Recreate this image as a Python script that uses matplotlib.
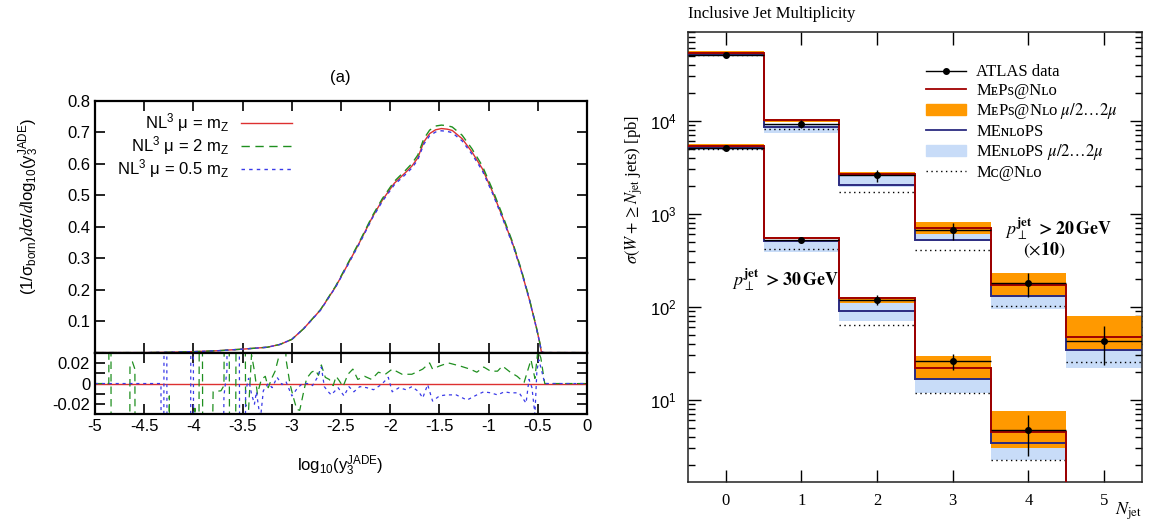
import matplotlib.pyplot as plt
from matplotlib.lines import Line2D
from matplotlib.patches import Patch
import numpy as np

plt.rcParams['mathtext.fontset'] = 'stix'
plt.rcParams['axes.unicode_minus'] = False
plt.rcParams['font.family'] = 'Liberation Sans'

# ---- left panel: y3 JADE distribution ----
y3_x = [-5.0, -4.5, -4.25, -4.0, -3.75, -3.5, -3.25, -3.12, -3.0, -2.88, -2.71, -2.555,
        -2.435, -2.3, -2.18, -2.08, -1.96, -1.84, -1.78, -1.72, -1.66, -1.6, -1.54, -1.48,
        -1.42, -1.37, -1.27, -1.17, -1.065, -0.96, -0.86, -0.756, -0.67, -0.585, -0.517,
        -0.48, -0.465, -0.44, -0.3, 0.0]
nl3_mz = [0, 0, 0.001, 0.003, 0.006, 0.011, 0.017, 0.026, 0.042, 0.076, 0.135, 0.209,
          0.278, 0.357, 0.431, 0.484, 0.537, 0.573, 0.592, 0.618, 0.668, 0.695, 0.707, 0.711,
          0.709, 0.705, 0.679, 0.637, 0.584, 0.51, 0.431, 0.346, 0.262, 0.167, 0.082,
          0.03, 0.003, 0.0, 0, 0]
nl3_2mz = [0, 0, 0.001, 0.003, 0.006, 0.011, 0.017, 0.026, 0.042, 0.076, 0.136, 0.211,
           0.281, 0.36, 0.435, 0.489, 0.543, 0.58, 0.6, 0.627, 0.678, 0.706, 0.719, 0.722,
           0.72, 0.716, 0.69, 0.647, 0.593, 0.517, 0.437, 0.35, 0.265, 0.169, 0.083,
           0.031, 0.003, 0.0, 0, 0]
nl3_05mz = [0, 0, 0.001, 0.003, 0.006, 0.011, 0.017, 0.026, 0.042, 0.076, 0.134, 0.208,
            0.276, 0.354, 0.428, 0.48, 0.532, 0.567, 0.586, 0.612, 0.661, 0.688, 0.7, 0.704,
            0.702, 0.698, 0.672, 0.63, 0.578, 0.505, 0.427, 0.343, 0.26, 0.166, 0.081,
            0.03, 0.003, 0.0, 0, 0]

# relative deviation from mu = mZ (ratio panel)
dev2_x = [-5.0, -4.86, -4.845, -4.83, -4.66, -4.645, -4.62, -4.595, -4.58, -4.27, -4.245,
          -4.225, -4.01, -3.985, -3.96, -3.925, -3.89, -3.8, -3.72, -3.69, -3.655, -3.615,
          -3.57, -3.545, -3.5, -3.47, -3.44, -3.41, -3.38, -3.35, -3.31, -3.27, -3.24, -3.2,
          -3.17, -3.13, -3.1, -3.06, -3.02, -2.98, -2.95, -2.92, -2.88, -2.85, -2.8, -2.76,
          -2.73, -2.7, -2.66, -2.62, -2.58, -2.55, -2.52, -2.48, -2.43, -2.38, -2.33, -2.26,
          -2.19, -2.12, -2.05, -1.98, -1.88, -1.78, -1.67, -1.6, -1.57, -1.5, -1.41, -1.29,
          -1.19, -1.12, -1.05, -0.98, -0.91, -0.86, -0.78, -0.71, -0.64, -0.57, -0.53, -0.5,
          -0.47, -0.43, 0.0]
dev2 = [0, 0, 0.6, -0.6, -0.6, 0.016, 0.021, 0.014, -0.6, -0.6, -0.012,
        -0.6, -0.6, -0.024, -0.6, 0.6, -0.6, -0.008, -0.007, -0.002, 0.6, -0.6,
        -0.025, 0.6, 0.6, -0.02, -0.026, 0.028, 0.012, -0.01, 0.004, 0.007, -0.004, 0.006,
        0.012, 0.027, 0.6, 0.024, 0.0, -0.015, -0.025, -0.026, -0.008, 0.005, 0.011, 0.013,
        0.008, 0.018, 0.006, 0.004, -0.002, 0.007, 0.003, -0.003, 0.009, 0.014, 0.004, 0.007,
        0.004, 0.011, 0.009, 0.014, 0.009, 0.009, 0.014, 0.02, 0.014, 0.017, 0.02, 0.017,
        0.014, 0.011, 0.016, 0.012, 0.012, 0.017, 0.011, 0.007, 0.001, 0.023, 0.005, 0.032,
        0.025, 0.0, 0.0]
dev05_x = [-5.0, -4.33, -4.315, -4.285, -4.255, -4.04, -4.015, -3.985, -3.75, -3.69, -3.66,
           -3.63, -3.55, -3.515, -3.5, -3.47, -3.44, -3.41, -3.38, -3.36, -3.32, -3.29, -3.24,
           -3.2, -3.15, -3.1, -3.06, -3.0, -2.94, -2.89, -2.84, -2.79, -2.74, -2.7, -2.67,
           -2.63, -2.6, -2.53, -2.47, -2.42, -2.37, -2.31, -2.24, -2.17, -2.09, -2.02, -1.98,
           -1.91, -1.84, -1.78, -1.71, -1.67, -1.62, -1.57, -1.5, -1.43, -1.33, -1.22, -1.12,
           -1.05, -0.98, -0.91, -0.84, -0.78, -0.69, -0.62, -0.59, -0.56, -0.53, -0.51, -0.49,
           -0.46, -0.43, 0.0]
dev05 = [0, 0, -0.6, 0.6, -0.6, -0.6, 0.6, -0.6, -0.6, -0.012, 0.012,
         0.6, 0.6, -0.6, -0.6, -0.008, 0.005, -0.01, -0.02, -0.008, -0.035, -0.007, 0.0,
         -0.004, 0.006, -0.001, 0.002, -0.012, -0.004, 0.0, 0.0, -0.002, 0.006, 0.016, -0.003,
         -0.008, -0.011, -0.004, -0.012, -0.003, -0.008, -0.003, -0.004, -0.006, -0.001, 0.006, -0.008,
         -0.004, -0.006, -0.003, -0.008, -0.014, -0.001, -0.017, -0.012, -0.011, -0.011, -0.016, -0.011,
         -0.008, -0.009, -0.011, -0.008, -0.009, -0.009, -0.019, 0.004, -0.004, -0.03, 0.012, 0.023,
         0.012, 0.0, 0.0]

# ---- right panel: inclusive jet multiplicity ----
n_jet = [0, 1, 2, 3, 4, 5]
edges = [-0.5, 0.5, 1.5, 2.5, 3.5, 4.5, 5.5]

data20 = [51300, 9290, 2580, 661, 180, 42.4]
err20 = [2000, 950, 380, 135, 53, 19]
meps20 = [53500, 10070, 2690, 702, 173, 47.2]
meps20_hi = [55600, 10400, 2780, 805, 232, 79]
meps20_lo = [51300, 9750, 2560, 610, 128, 35]
menlops20 = [51300, 8610, 2015, 525, 131, 33.9]
menlops20_hi = [53800, 9290, 2630, 700, 170, 45]
menlops20_lo = [49100, 7430, 1960, 503, 95, 21.9]
mcnlo20 = [50400, 8200, 1695, 410, 100.7, 25.4]

data30 = [5080, 525, 119, 25.8, 4.68]
err30 = [200, 37, 14, 4.8, 2.2]
meps30 = [5380, 548, 123, 21.9, 4.45, 0.1]
meps30_hi = [5610, 560, 126, 29.7, 7.48]
meps30_lo = [5300, 535, 110, 16.7, 3.02]
menlops30 = [5130, 513, 89, 16.8, 3.42, 0.1]
menlops30_hi = [5300, 525, 114, 22, 4.3]
menlops30_lo = [4880, 387, 69.5, 11.8, 2.26]
mcnlo30 = [4950, 421, 64, 11.8, 2.26]

RED_L, GREEN_L, BLUE_L = '#dd3030', '#1f8f1f', '#3a3ae8'
RED, NAVY, ORANGE, LBLUE = '#a00000', '#2b2b80', '#ff9900', '#c8dcf8'

fig = plt.figure(figsize=(11.52, 5.23), dpi=100)

ax = fig.add_axes([0.0825, 0.3258, 0.4271, 0.4820])
axr = fig.add_axes([0.0825, 0.2075, 0.4271, 0.1183], sharex=ax)

ax.plot(y3_x, nl3_mz, color=RED_L, lw=1, label=r'NL$\mathregular{^3}$ μ = m$\mathregular{_Z}$')
ax.plot(y3_x, nl3_2mz, color=GREEN_L, lw=1, dashes=(6, 4),
        label=r'NL$\mathregular{^3}$ μ = 2 m$\mathregular{_Z}$')
ax.plot(y3_x, nl3_05mz, color=BLUE_L, lw=1, dashes=(2.5, 3),
        label=r'NL$\mathregular{^3}$ μ = 0.5 m$\mathregular{_Z}$')
ax.set_xlim(-5, 0)
ax.set_ylim(0, 0.8)
ax.set_yticks(np.arange(0.1, 0.81, 0.1))
ax.set_yticklabels(['%.1f' % v for v in np.arange(0.1, 0.81, 0.1)])
ax.tick_params(labelbottom=False)
ax.legend(loc='upper right', bbox_to_anchor=(0.418, 0.99), frameon=False, markerfirst=False,
          fontsize=12, handlelength=3.1, handletextpad=0.7, labelspacing=0.0, borderpad=0)

axr.axhline(0, color=RED_L, lw=1)
axr.plot(dev2_x, dev2, color=GREEN_L, lw=0.9, dashes=(6, 4))
axr.plot(dev05_x, dev05, color=BLUE_L, lw=0.9, dashes=(2.5, 3))
axr.set_ylim(-0.03, 0.03)
axr.set_yticks([-0.02, -0.01, 0, 0.01, 0.02])
axr.set_yticklabels(['-0.02', '', '0', '', '0.02'])
axr.set_xticks(np.arange(-5, 0.01, 0.5))
axr.set_xticklabels(['-5', '-4.5', '-4', '-3.5', '-3', '-2.5', '-2', '-1.5', '-1', '-0.5', '0'])

for a in (ax, axr):
    a.tick_params(direction='in', top=True, right=True, length=7, width=1.2, labelsize=12)
    for s in a.spines.values():
        s.set_linewidth(1.6)

fig.text(0.295, 0.852, '(a)', fontsize=12, ha='center', va='center')
fig.text(0.025, 0.605, r'(1/σ$\mathregular{_{born}}$)$\mathit{d}$σ/$\mathit{d}$log$\mathregular{_{10}}$(y$\mathregular{_3^{JADE}}$)',
         rotation=90, fontsize=12, ha='center', va='center')
fig.text(0.295, 0.110, r'log$\mathregular{_{10}}$(y$\mathregular{_3^{JADE}}$)', fontsize=12,
         ha='center', va='center')

# ---- right panel ----
serif = ['Liberation Serif', 'DejaVu Serif', 'DejaVu Sans']
bx = fig.add_axes([0.5972, 0.0784, 0.3941, 0.8604])

bx.stairs(menlops20_hi, edges, baseline=menlops20_lo, fill=True, color=LBLUE, zorder=1)
bx.stairs(menlops30_hi, edges[:6], baseline=menlops30_lo, fill=True, color=LBLUE, zorder=1)
bx.stairs(meps20_hi, edges, baseline=meps20_lo, fill=True, color=ORANGE, zorder=2)
bx.stairs(meps30_hi, edges[:6], baseline=meps30_lo, fill=True, color=ORANGE, zorder=2)
bx.hlines(mcnlo20, edges[:-1], edges[1:], colors='black', linestyles=(0, (1, 2.5)), lw=1, zorder=3)
bx.hlines(mcnlo30, edges[:5], edges[1:6], colors='black', linestyles=(0, (1, 2.5)), lw=1, zorder=3)
bx.stairs(menlops20, edges, baseline=None, color=NAVY, lw=1.4, zorder=4)
bx.stairs(menlops30, edges, baseline=None, color=NAVY, lw=1.4, zorder=4)
bx.stairs(meps20, edges, baseline=None, color=RED, lw=1.4, zorder=5)
bx.stairs(meps30, edges, baseline=None, color=RED, lw=1.4, zorder=5)
bx.errorbar(n_jet, data20, yerr=err20, xerr=0.5, fmt='o', color='black', ms=4, lw=1,
            capsize=0, zorder=6)
bx.errorbar(n_jet[:5], data30, yerr=err30, xerr=0.5, fmt='o', color='black', ms=4, lw=1,
            capsize=0, zorder=6)

bx.set_yscale('log')
bx.set_xlim(-0.5, 5.5)
bx.set_ylim(1.3, 9.0e4)
bx.set_xticks(n_jet)
bx.tick_params(which='major', direction='in', top=True, right=True, length=9, width=1,
               labelsize=12, pad=8)
bx.tick_params(which='minor', direction='in', top=False, right=True, length=5, width=1)
bx.xaxis.set_minor_locator(plt.NullLocator())
for lbl in bx.get_xticklabels():
    lbl.set_family(serif)
for s in bx.spines.values():
    s.set_linewidth(1.1)
    s.set_color('#222222')

bx.set_title('Inclusive Jet Multiplicity', loc='left', fontsize=12, family=serif, pad=10)
bx.set_ylabel(r'$\sigma(W + \geq N_{\rm jet}$ jets) [pb]', fontsize=12, family=serif)
bx.yaxis.set_label_coords(-0.095, 0.65)
fig.text(0.991, 0.002, r'$N_{\rm jet}$', fontsize=13, ha='right', va='bottom')

bx.text(0.815, 0.563, r'$p_\perp^{\mathbf{jet}}$ $\mathbf{> 20\,GeV}$', transform=bx.transAxes,
        fontsize=13, ha='center', va='center')
bx.text(0.785, 0.515, r'$(\times\mathbf{10})$', transform=bx.transAxes, fontsize=13,
        ha='center', va='center')
bx.text(0.215, 0.449, r'$p_\perp^{\mathbf{jet}}$ $\mathbf{> 30\,GeV}$', transform=bx.transAxes,
        fontsize=13, ha='center', va='center')

handles = [
    Line2D([], [], color='black', marker='o', ms=4, lw=1),
    Line2D([], [], color=RED, lw=1.3),
    Patch(color=ORANGE),
    Line2D([], [], color=NAVY, lw=1.3),
    Patch(color=LBLUE),
    Line2D([], [], color='black', lw=1, linestyle=(0, (1, 2.5))),
]
labels = ['ATLAS data', 'MᴇPs@Nʟᴏ', r'MᴇPs@Nʟᴏ $\mu/2\ldots2\mu$', 'MEɴʟᴏPS',
          r'MEɴʟᴏPS $\mu/2\ldots2\mu$', 'Mᴄ@Nʟᴏ']
bx.legend(handles, labels, loc='upper left', bbox_to_anchor=(0.525, 0.928), frameon=False,
          prop={'family': serif, 'size': 12}, handlelength=2.4, handletextpad=0.6,
          labelspacing=0.15, borderpad=0, borderaxespad=0)

fig.savefig('out.png', dpi=100)
